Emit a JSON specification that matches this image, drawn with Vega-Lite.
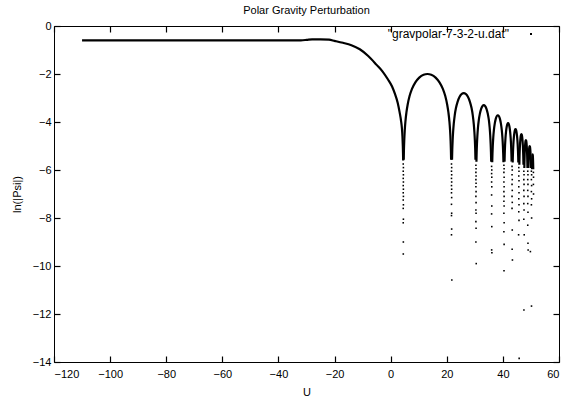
{
  "$schema": "https://vega.github.io/schema/vega-lite/v6.json",
  "width": 505,
  "height": 336,
  "autosize": {"type": "none"},
  "padding": {"left": 54, "top": 26, "right": 7, "bottom": 36},
  "background": "white",
  "title": {"text": "Polar Gravity Perturbation", "font": "Liberation Sans", "fontSize": 11, "fontWeight": "normal", "color": "black", "offset": 4},
  "config": {
    "view": {"stroke": "black", "strokeWidth": 1},
    "axis": {"labelFont": "Liberation Sans", "labelFontSize": 11, "labelColor": "black", "titleFont": "Liberation Sans", "titleFontSize": 11, "titleFontWeight": "normal", "titleColor": "black", "tickColor": "black", "tickWidth": 1.2, "ticks": true, "grid": false, "domain": false}
  },
  "datasets": {
    "curve": [
      {"s":0,"u":-110,"v":-0.6},{"s":0,"u":-90,"v":-0.6},{"s":0,"u":-70,"v":-0.6},{"s":0,"u":-50,"v":-0.6},{"s":0,"u":-36,"v":-0.6},{"s":0,"u":-32,"v":-0.595},{"s":0,"u":-30,"v":-0.58},{"s":0,"u":-28,"v":-0.56},{"s":0,"u":-25,"v":-0.555},{"s":0,"u":-22,"v":-0.57},{"s":0,"u":-20,"v":-0.62},{"s":0,"u":-17,"v":-0.7},{"s":0,"u":-14,"v":-0.8},{"s":0,"u":-11,"v":-0.97},{"s":0,"u":-8,"v":-1.25},{"s":0,"u":-5,"v":-1.62},{"s":0,"u":-3,"v":-1.88},{"s":0,"u":-1,"v":-2.22},{"s":0,"u":0.5,"v":-2.52},{"s":0,"u":1.5,"v":-2.82},{"s":0,"u":2.5,"v":-3.2},{"s":0,"u":3.2,"v":-3.6},{"s":0,"u":3.7,"v":-3.95},{"s":0,"u":4.0,"v":-4.25},{"s":0,"u":4.2,"v":-4.6},{"s":0,"u":4.33,"v":-5.0},{"s":0,"u":4.4,"v":-5.3},{"s":0,"u":4.45,"v":-5.6},
      {"s":1,"u":4.655,"v":-5.57},{"s":1,"u":4.724,"v":-5.2},{"s":1,"u":4.844,"v":-4.77},{"s":1,"u":5.016,"v":-4.36},{"s":1,"u":5.274,"v":-3.96},{"s":1,"u":5.618,"v":-3.6},{"s":1,"u":6.048,"v":-3.28},{"s":1,"u":6.736,"v":-2.92},{"s":1,"u":7.596,"v":-2.62},{"s":1,"u":8.8,"v":-2.35},{"s":1,"u":10.176,"v":-2.15},{"s":1,"u":11.724,"v":-2.03},{"s":1,"u":13.1,"v":-2.0},{"s":1,"u":14.476,"v":-2.03},{"s":1,"u":16.024,"v":-2.15},{"s":1,"u":17.4,"v":-2.35},{"s":1,"u":18.604,"v":-2.62},{"s":1,"u":19.464,"v":-2.92},{"s":1,"u":20.152,"v":-3.28},{"s":1,"u":20.582,"v":-3.6},{"s":1,"u":20.926,"v":-3.96},{"s":1,"u":21.184,"v":-4.36},{"s":1,"u":21.356,"v":-4.77},{"s":1,"u":21.476,"v":-5.2},{"s":1,"u":21.545,"v":-5.57},
      {"s":2,"u":21.874,"v":-5.57},{"s":2,"u":21.961,"v":-5.16},{"s":2,"u":22.092,"v":-4.76},{"s":2,"u":22.266,"v":-4.4},{"s":2,"u":22.483,"v":-4.08},{"s":2,"u":22.831,"v":-3.72},{"s":2,"u":23.266,"v":-3.42},{"s":2,"u":23.875,"v":-3.15},{"s":2,"u":24.571,"v":-2.95},{"s":2,"u":25.354,"v":-2.83},{"s":2,"u":26.05,"v":-2.8},{"s":2,"u":26.746,"v":-2.83},{"s":2,"u":27.529,"v":-2.95},{"s":2,"u":28.225,"v":-3.15},{"s":2,"u":28.834,"v":-3.42},{"s":2,"u":29.269,"v":-3.72},{"s":2,"u":29.617,"v":-4.08},{"s":2,"u":29.835,"v":-4.4},{"s":2,"u":30.009,"v":-4.76},{"s":2,"u":30.139,"v":-5.16},{"s":2,"u":30.226,"v":-5.57},
      {"s":3,"u":30.568,"v":-5.66},{"s":3,"u":30.652,"v":-5.26},{"s":3,"u":30.764,"v":-4.9},{"s":3,"u":30.904,"v":-4.58},{"s":3,"u":31.128,"v":-4.22},{"s":3,"u":31.408,"v":-3.92},{"s":3,"u":31.8,"v":-3.65},{"s":3,"u":32.248,"v":-3.45},{"s":3,"u":32.752,"v":-3.33},{"s":3,"u":33.2,"v":-3.3},{"s":3,"u":33.648,"v":-3.33},{"s":3,"u":34.152,"v":-3.45},{"s":3,"u":34.6,"v":-3.65},{"s":3,"u":35.008,"v":-3.92},{"s":3,"u":35.272,"v":-4.22},{"s":3,"u":35.496,"v":-4.58},{"s":3,"u":35.636,"v":-4.9},{"s":3,"u":35.748,"v":-5.26},{"s":3,"u":35.832,"v":-5.66},
      {"s":4,"u":36.198,"v":-5.68},{"s":4,"u":36.286,"v":-5.32},{"s":4,"u":36.396,"v":-5.0},{"s":4,"u":36.572,"v":-4.64},{"s":4,"u":36.792,"v":-4.34},{"s":4,"u":37.1,"v":-4.07},{"s":4,"u":37.452,"v":-3.87},{"s":4,"u":37.848,"v":-3.75},{"s":4,"u":38.2,"v":-3.72},{"s":4,"u":38.552,"v":-3.75},{"s":4,"u":38.948,"v":-3.87},{"s":4,"u":39.3,"v":-4.07},{"s":4,"u":39.608,"v":-4.34},{"s":4,"u":39.828,"v":-4.64},{"s":4,"u":40.004,"v":-5.0},{"s":4,"u":40.114,"v":-5.32},{"s":4,"u":40.202,"v":-5.68},
      {"s":5,"u":40.589,"v":-5.65},{"s":5,"u":40.661,"v":-5.33},{"s":5,"u":40.777,"v":-4.97},{"s":5,"u":40.922,"v":-4.67},{"s":5,"u":41.125,"v":-4.4},{"s":5,"u":41.357,"v":-4.2},{"s":5,"u":41.618,"v":-4.08},{"s":5,"u":41.85,"v":-4.05},{"s":5,"u":42.082,"v":-4.08},{"s":5,"u":42.343,"v":-4.2},{"s":5,"u":42.575,"v":-4.4},{"s":5,"u":42.778,"v":-4.67},{"s":5,"u":42.923,"v":-4.97},{"s":5,"u":43.039,"v":-5.33},{"s":5,"u":43.111,"v":-5.65},
      {"s":6,"u":43.492,"v":-5.69},{"s":6,"u":43.54,"v":-5.47},{"s":6,"u":43.612,"v":-5.22},{"s":6,"u":43.732,"v":-4.92},{"s":6,"u":43.9,"v":-4.65},{"s":6,"u":44.092,"v":-4.45},{"s":6,"u":44.308,"v":-4.33},{"s":6,"u":44.5,"v":-4.3},{"s":6,"u":44.692,"v":-4.33},{"s":6,"u":44.908,"v":-4.45},{"s":6,"u":45.1,"v":-4.65},{"s":6,"u":45.268,"v":-4.92},{"s":6,"u":45.388,"v":-5.22},{"s":6,"u":45.46,"v":-5.47},{"s":6,"u":45.508,"v":-5.69},
      {"s":7,"u":45.862,"v":-5.78},{"s":7,"u":45.934,"v":-5.42},{"s":7,"u":46.024,"v":-5.12},{"s":7,"u":46.15,"v":-4.85},{"s":7,"u":46.294,"v":-4.65},{"s":7,"u":46.456,"v":-4.53},{"s":7,"u":46.6,"v":-4.5},{"s":7,"u":46.744,"v":-4.53},{"s":7,"u":46.906,"v":-4.65},{"s":7,"u":47.05,"v":-4.85},{"s":7,"u":47.176,"v":-5.12},{"s":7,"u":47.266,"v":-5.42},{"s":7,"u":47.338,"v":-5.78},
      {"s":8,"u":47.64,"v":-5.92},{"s":8,"u":47.682,"v":-5.67},{"s":8,"u":47.752,"v":-5.37},{"s":8,"u":47.85,"v":-5.1},{"s":8,"u":47.962,"v":-4.9},{"s":8,"u":48.088,"v":-4.78},{"s":8,"u":48.2,"v":-4.75},{"s":8,"u":48.312,"v":-4.78},{"s":8,"u":48.438,"v":-4.9},{"s":8,"u":48.55,"v":-5.1},{"s":8,"u":48.648,"v":-5.37},{"s":8,"u":48.718,"v":-5.67},{"s":8,"u":48.76,"v":-5.92},
      {"s":9,"u":49.069,"v":-5.92},{"s":9,"u":49.134,"v":-5.62},{"s":9,"u":49.225,"v":-5.35},{"s":9,"u":49.329,"v":-5.15},{"s":9,"u":49.446,"v":-5.03},{"s":9,"u":49.55,"v":-5.0},{"s":9,"u":49.654,"v":-5.03},{"s":9,"u":49.771,"v":-5.15},{"s":9,"u":49.875,"v":-5.35},{"s":9,"u":49.966,"v":-5.62},{"s":9,"u":50.031,"v":-5.92},
      {"s":10,"u":50.376,"v":-5.97},{"s":10,"u":50.425,"v":-5.7},{"s":10,"u":50.481,"v":-5.5},{"s":10,"u":50.544,"v":-5.38},{"s":10,"u":50.6,"v":-5.35},{"s":10,"u":50.656,"v":-5.38},{"s":10,"u":50.719,"v":-5.5},{"s":10,"u":50.775,"v":-5.7},{"s":10,"u":50.824,"v":-5.97}
    ],
    "dots": [
      {"u":4.48,"v":-5.75},{"u":4.54,"v":-5.9},{"u":4.48,"v":-6.05},{"u":4.54,"v":-6.2},{"u":4.48,"v":-6.35},{"u":4.54,"v":-6.5},{"u":4.48,"v":-6.65},{"u":4.54,"v":-6.8},{"u":4.48,"v":-6.95},{"u":4.54,"v":-7.1},{"u":4.48,"v":-7.25},{"u":4.54,"v":-7.45},{"u":4.48,"v":-7.6},{"u":4.54,"v":-8.05},{"u":4.48,"v":-8.2},{"u":4.52,"v":-9.0},{"u":4.5,"v":-9.5},
      {"u":21.68,"v":-5.75},{"u":21.74,"v":-5.9},{"u":21.68,"v":-6.05},{"u":21.74,"v":-6.2},{"u":21.68,"v":-6.35},{"u":21.74,"v":-6.5},{"u":21.68,"v":-6.65},{"u":21.74,"v":-6.8},{"u":21.68,"v":-6.95},{"u":21.74,"v":-7.15},{"u":21.68,"v":-7.43},{"u":21.74,"v":-7.8},{"u":21.68,"v":-7.9},{"u":21.74,"v":-8.46},{"u":21.68,"v":-8.7},{"u":21.8,"v":-10.58},
      {"u":30.38,"v":-5.8},{"u":30.44,"v":-5.95},{"u":30.38,"v":-6.1},{"u":30.44,"v":-6.25},{"u":30.38,"v":-6.4},{"u":30.44,"v":-6.55},{"u":30.38,"v":-6.7},{"u":30.44,"v":-6.9},{"u":30.38,"v":-7.1},{"u":30.44,"v":-7.36},{"u":30.38,"v":-7.67},{"u":30.44,"v":-7.8},{"u":30.38,"v":-8.15},{"u":30.44,"v":-8.43},{"u":30.38,"v":-9.0},{"u":30.5,"v":-9.9},
      {"u":35.98,"v":-5.85},{"u":36.04,"v":-6.0},{"u":35.98,"v":-6.15},{"u":36.04,"v":-6.3},{"u":35.98,"v":-6.5},{"u":36.04,"v":-6.7},{"u":35.98,"v":-7.04},{"u":36.04,"v":-7.5},{"u":35.98,"v":-7.83},{"u":36.04,"v":-8.36},{"u":36.0,"v":-9.33},{"u":36.08,"v":-9.45},
      {"u":40.36,"v":-5.8},{"u":40.44,"v":-5.95},{"u":40.36,"v":-6.1},{"u":40.44,"v":-6.3},{"u":40.36,"v":-6.5},{"u":40.44,"v":-6.7},{"u":40.36,"v":-6.9},{"u":40.44,"v":-7.1},{"u":40.36,"v":-7.3},{"u":40.44,"v":-7.5},{"u":40.36,"v":-7.8},{"u":40.44,"v":-8.2},{"u":40.36,"v":-8.57},{"u":40.44,"v":-9.1},{"u":40.4,"v":-10.2},
      {"u":43.26,"v":-5.85},{"u":43.34,"v":-6.0},{"u":43.26,"v":-6.2},{"u":43.34,"v":-6.4},{"u":43.26,"v":-6.6},{"u":43.34,"v":-6.85},{"u":43.26,"v":-7.1},{"u":43.34,"v":-7.35},{"u":43.26,"v":-7.6},{"u":43.34,"v":-8.5},{"u":43.3,"v":-9.3},{"u":43.4,"v":-9.75},
      {"u":45.66,"v":-5.9},{"u":45.74,"v":-6.05},{"u":45.66,"v":-6.25},{"u":45.74,"v":-6.45},{"u":45.66,"v":-6.7},{"u":45.74,"v":-6.95},{"u":45.66,"v":-7.2},{"u":45.74,"v":-7.45},{"u":45.66,"v":-7.74},{"u":45.74,"v":-8.1},{"u":45.6,"v":-8.7},{"u":45.8,"v":-13.85},
      {"u":47.46,"v":-6.05},{"u":47.54,"v":-6.2},{"u":47.46,"v":-6.4},{"u":47.54,"v":-6.6},{"u":47.46,"v":-6.85},{"u":47.54,"v":-7.1},{"u":47.46,"v":-7.4},{"u":47.54,"v":-7.67},{"u":47.46,"v":-8.05},{"u":47.6,"v":-8.7},{"u":47.5,"v":-11.83},
      {"u":48.86,"v":-6.05},{"u":48.94,"v":-6.2},{"u":48.86,"v":-6.4},{"u":48.94,"v":-6.6},{"u":48.86,"v":-6.85},{"u":48.94,"v":-7.1},{"u":48.86,"v":-7.4},{"u":48.94,"v":-7.76},{"u":48.86,"v":-8.3},{"u":48.94,"v":-9.05},{"u":49.0,"v":-9.33},
      {"u":50.16,"v":-6.05},{"u":50.24,"v":-6.2},{"u":50.16,"v":-6.4},{"u":50.24,"v":-6.65},{"u":50.16,"v":-6.9},{"u":50.24,"v":-7.2},{"u":50.16,"v":-7.45},{"u":50.24,"v":-8.0},{"u":49.8,"v":-9.4},{"u":50.2,"v":-11.67},
      {"u":50.88,"v":-6.1},{"u":50.92,"v":-6.3},{"u":50.88,"v":-6.6},{"u":50.92,"v":-7.0}
    ]
  },
  "layer": [
    {
      "data": {"name": "curve"},
      "mark": {"type": "line", "interpolate": "monotone", "color": "black", "strokeWidth": 2.2},
      "encoding": {
        "x": {"field": "u", "type": "quantitative", "scale": {"domain": [-120, 60], "nice": false, "zero": false},
              "axis": {"orient": "bottom", "values": [-120,-100,-80,-60,-40,-20,0,20,40,60], "offset": -6, "tickSize": 6, "labelPadding": 6, "title": "U", "titlePadding": 7}},
        "y": {"field": "v", "type": "quantitative", "scale": {"domain": [-14, 0], "nice": false, "zero": false},
              "axis": {"orient": "left", "values": [0,-2,-4,-6,-8,-10,-12,-14], "offset": -6, "tickSize": 6, "labelPadding": 3, "title": "ln(|Psi|)", "titlePadding": 10}},
        "detail": {"field": "s"}
      }
    },
    {
      "data": {"name": "dots"},
      "mark": {"type": "point", "shape": "square", "filled": true, "size": 2.5, "opacity": 1},
      "encoding": {
        "x": {"field": "u", "type": "quantitative",
              "axis": {"orient": "top", "values": [-120,-100,-80,-60,-40,-20,0,20,40,60], "offset": -6, "tickSize": 6, "labels": false, "title": null}},
        "y": {"field": "v", "type": "quantitative",
              "axis": {"orient": "right", "values": [0,-2,-4,-6,-8,-10,-12,-14], "offset": -6, "tickSize": 6, "labels": false, "title": null}},
        "color": {"datum": "\"gravpolar-7-3-2-u.dat\"", "type": "nominal", "scale": {"range": ["black"]},
                  "legend": {"orient": "none", "legendX": 471, "legendY": 2, "title": null, "padding": 0, "symbolType": "square", "symbolSize": 4, "symbolStrokeWidth": 0, "symbolFillColor": "black", "labelAlign": "right", "labelOffset": -28, "labelFont": "Liberation Sans", "labelFontSize": 12, "labelColor": "black"}}
      }
    }
  ],
  "resolve": {"axis": {"x": "independent", "y": "independent"}}
}
